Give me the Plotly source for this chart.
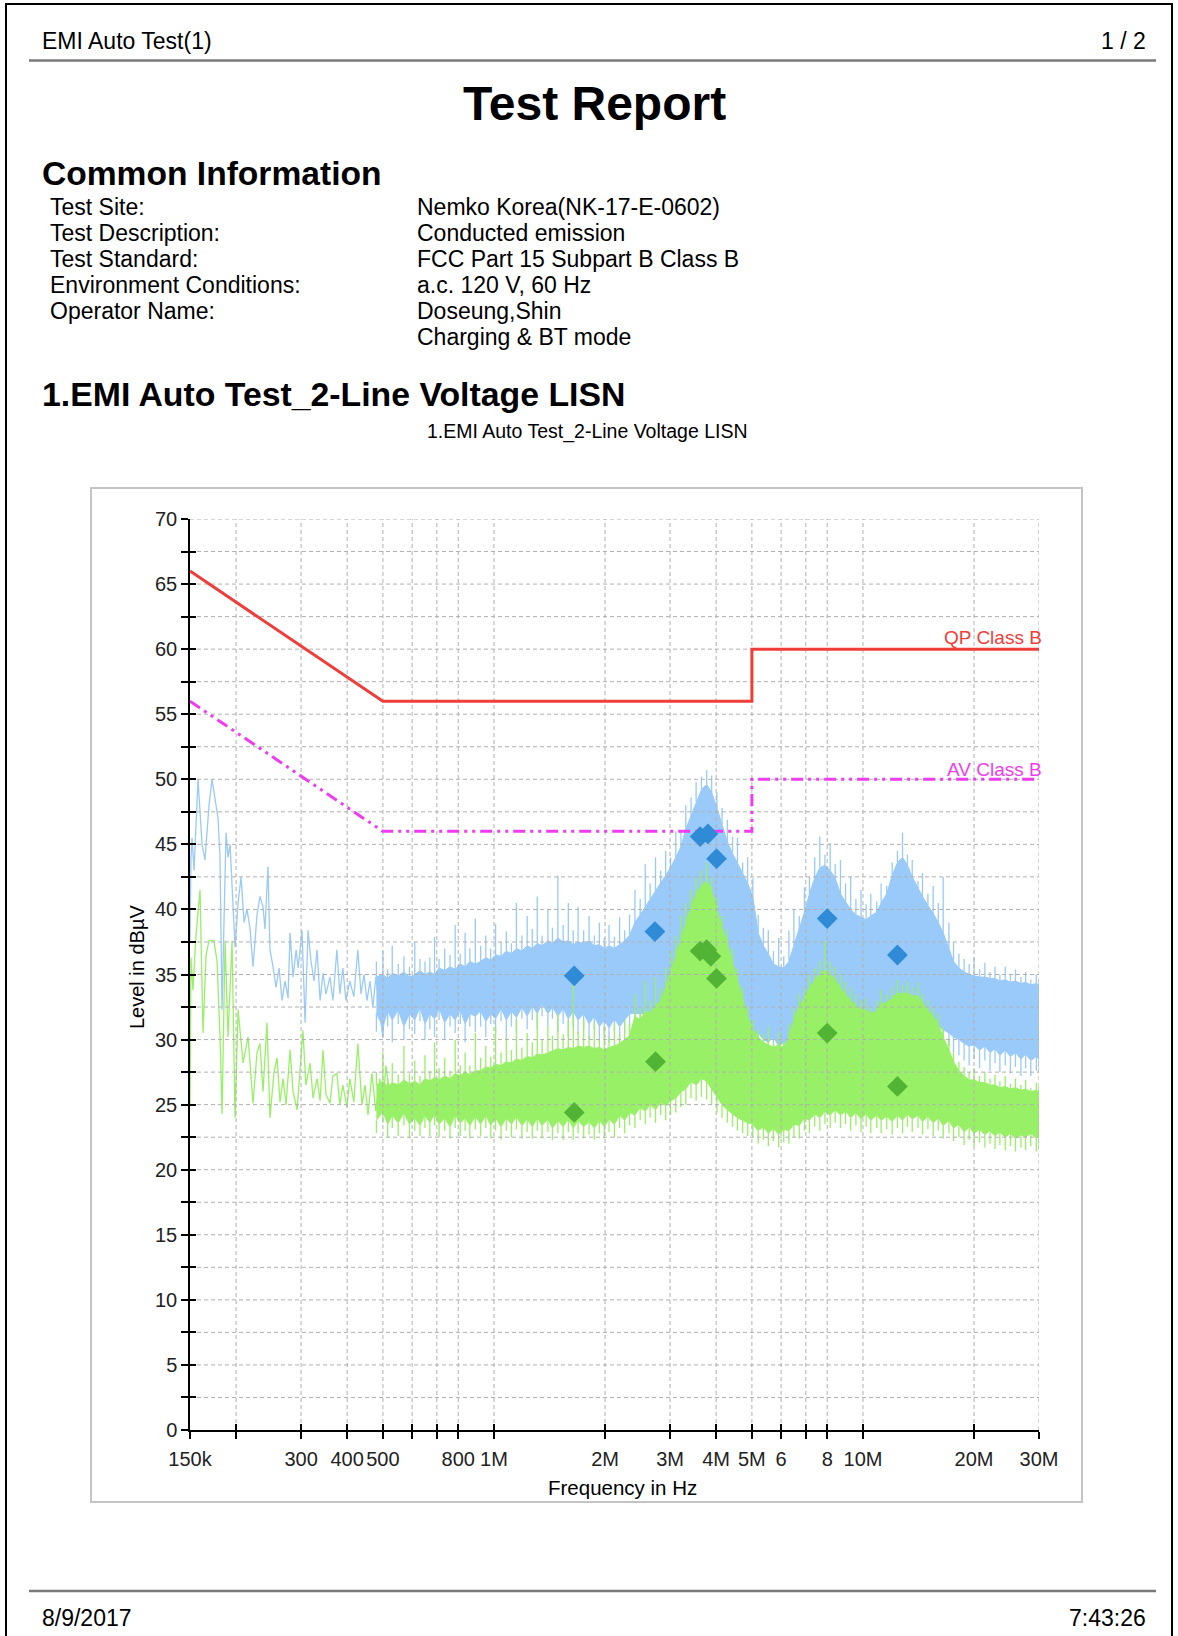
import math
import plotly.graph_objects as go

# ---------------------------------------------------------------- data
# Limit lines (FCC Part 15 Class B, conducted), frequency in MHz
LIMIT_MHZ = [0.15, 0.5, 5.0, 5.0, 30.0]
QP_LIMIT_DB = [66, 56, 56, 60, 60]
AV_LIMIT_DB = [56, 46, 46, 50, 50]

# Peak detector trace, low-frequency part (MHz, dBuV)
PK_LF_MHZ = [0.1500, 0.1509, 0.1519, 0.1538, 0.1577, 0.1617, 0.1647, 0.1689, 0.1721, 0.1753,
             0.1787, 0.1809, 0.1832, 0.1878, 0.1902, 0.1926, 0.1950, 0.1987, 0.2025, 0.2063,
             0.2102, 0.2141, 0.2182, 0.2223, 0.2278, 0.2321, 0.2366, 0.2395, 0.2440, 0.2471,
             0.2518, 0.2566, 0.2615, 0.2664, 0.2714, 0.2766, 0.2801, 0.2854, 0.2909, 0.2946,
             0.3018, 0.3076, 0.3134, 0.3192, 0.3253, 0.3315, 0.3378, 0.3441, 0.3504, 0.3593,
             0.3660, 0.3751, 0.3822, 0.3894, 0.3968, 0.4067, 0.4170, 0.4275, 0.4361, 0.4442,
             0.4527, 0.4611, 0.4697, 0.4784, 0.4905, 0.4995, 0.5095, 0.5226]
PK_LF_DB = [37.5, 44.0, 45.5, 43.0, 50.0, 45.0, 43.8, 48.0, 50.0, 48.5,
            47.0, 44.0, 32.3, 45.9, 44.0, 45.0, 42.0, 37.1, 40.5, 42.5,
            39.0, 40.0, 38.5, 35.6, 39.5, 41.0, 40.2, 38.5, 43.3, 36.9,
            35.6, 34.0, 35.5, 33.0, 34.5, 33.2, 38.2, 34.8, 36.9, 35.5,
            38.4, 31.3, 38.4, 36.0, 34.5, 36.9, 33.0, 35.1, 33.5, 34.8,
            33.0, 36.9, 33.5, 35.5, 33.0, 34.5, 33.3, 36.9, 33.5, 35.0,
            33.0, 34.5, 32.5, 34.8, 32.0, 30.2, 34.0, 33.0]

# Average detector trace, low-frequency part (MHz, dBuV)
AV_LF_MHZ = [0.1500, 0.1509, 0.1528, 0.1557, 0.1597, 0.1627, 0.1658, 0.1689, 0.1742, 0.1776,
             0.1809, 0.1832, 0.1867, 0.1902, 0.1950, 0.1987, 0.2025, 0.2089, 0.2155, 0.2223,
             0.2278, 0.2321, 0.2366, 0.2425, 0.2471, 0.2534, 0.2582, 0.2631, 0.2681, 0.2731,
             0.2801, 0.2854, 0.2927, 0.2981, 0.3035, 0.3092, 0.3173, 0.3233, 0.3315, 0.3378,
             0.3441, 0.3504, 0.3593, 0.3660, 0.3751, 0.3822, 0.3894, 0.3993, 0.4067, 0.4170,
             0.4275, 0.4388, 0.4473, 0.4556, 0.4667, 0.4784, 0.4905, 0.4995, 0.5095, 0.5226]
AV_LF_DB = [24.8, 36.3, 33.8, 38.0, 41.5, 30.5, 36.5, 37.6, 37.6, 36.0,
            30.2, 24.3, 37.6, 30.2, 37.6, 24.0, 32.3, 28.2, 30.2, 25.1,
            29.0, 29.7, 26.0, 31.3, 24.0, 27.5, 28.6, 25.2, 27.0, 25.0,
            29.2, 26.0, 24.6, 27.5, 30.7, 26.5, 28.2, 25.5, 27.0, 25.3,
            29.2, 25.8, 25.1, 27.2, 27.4, 25.0, 26.5, 24.8, 27.0, 25.2,
            29.7, 25.0, 26.5, 24.2, 27.4, 24.5, 27.0, 25.0, 28.0, 25.5]

# Dense sweep above 0.48 MHz: frequencies, solid upper/lower edge, spike tips and dips
BAND_MHZ = [0.48, 0.50, 0.515, 0.53, 0.55, 0.57, 0.59, 0.61, 0.63, 0.65,
            0.67, 0.69, 0.71, 0.735, 0.76, 0.785, 0.81, 0.835, 0.86, 0.89,
            0.92, 0.95, 0.98, 1.01, 1.045, 1.08, 1.115, 1.15, 1.19, 1.23,
            1.27, 1.31, 1.35, 1.40, 1.44, 1.49, 1.54, 1.59, 1.64, 1.69,
            1.75, 1.81, 1.87, 1.93, 1.99, 2.05, 2.12, 2.19, 2.26, 2.33,
            2.41, 2.49, 2.57, 2.65, 2.74, 2.83, 2.92, 3.01, 3.11, 3.21,
            3.31, 3.42, 3.53, 3.65, 3.77, 3.89, 4.02, 4.15, 4.29, 4.43,
            4.57, 4.72, 4.87, 5.03, 5.2, 5.37, 5.54, 5.72, 5.91, 6.1,
            6.3, 6.5, 6.72, 6.94, 7.16, 7.4, 7.64, 7.89, 8.15, 8.41,
            8.69, 8.97, 9.26, 9.57, 9.88, 10.2, 10.5, 10.9, 11.2, 11.6,
            12.0, 12.4, 12.8, 13.2, 13.6, 14.1, 14.5, 15.0, 15.5, 16.0,
            16.5, 17.1, 17.6, 18.2, 18.8, 19.4, 20.0, 20.7, 21.4, 22.1,
            22.8, 23.5, 24.3, 25.1, 25.9, 26.8, 27.6, 28.5, 29.5, 30.0]

PK_HI_DB = [34.8, 35.0, 34.7, 35.1, 34.9, 35.2, 34.8, 35.0, 35.3, 35.0,
            35.2, 35.0, 35.5, 35.3, 35.6, 35.4, 35.8, 35.6, 36.0, 35.8,
            36.0, 36.3, 36.1, 36.5, 36.4, 36.8, 36.6, 37.0, 36.8, 37.2,
            37.0, 37.4, 37.2, 37.6, 37.4, 37.8, 37.5, 37.6, 37.3, 37.5,
            37.4, 37.6, 37.2, 37.3, 37.0, 37.2, 37.0, 37.3, 37.6, 38.0,
            39.0, 39.6, 40.2, 40.8, 41.4, 42.0, 42.6, 43.2, 44.0, 44.8,
            46.2, 47.2, 48.3, 49.2, 49.6, 49.0, 47.8, 46.5, 45.2, 44.3,
            43.6, 42.8, 42.0, 41.0, 38.2, 37.2, 36.6, 35.8, 35.6, 35.5,
            36.0, 37.2, 38.4, 39.8, 41.2, 42.4, 43.2, 43.4, 43.0, 42.4,
            41.2, 40.6, 40.0, 39.6, 39.4, 39.2, 39.5, 39.8, 40.5, 41.2,
            42.6, 43.6, 44.0, 43.4, 42.5, 41.6, 41.0, 40.3, 39.7, 39.0,
            38.2, 37.0, 36.0, 35.5, 35.2, 35.0, 34.9, 34.8, 34.8, 34.7,
            34.7, 34.5, 34.6, 34.4, 34.5, 34.3, 34.4, 34.2, 34.3, 34.2]
PK_TIP_DB = [36.0, 36.8, 35.4, 37.2, 35.8, 36.4, 35.6, 37.5, 36.2, 36.0,
             36.3, 37.9, 36.2, 37.0, 36.5, 38.8, 36.6, 38.2, 37.0, 39.3,
             37.2, 38.0, 37.0, 38.9, 37.5, 38.3, 37.4, 40.5, 38.0, 39.5,
             38.5, 41.0, 38.0, 40.0, 38.6, 42.6, 38.8, 40.5, 38.4, 40.2,
             38.4, 39.5, 38.0, 39.0, 37.8, 38.8, 37.9, 39.4, 38.4, 39.6,
             41.5, 40.8, 43.5, 42.0, 44.0, 43.0, 44.5, 44.0, 46.0, 46.0,
             48.0, 48.6, 49.8, 50.2, 50.7, 50.3, 49.0, 47.8, 46.9, 45.6,
             45.5, 43.6, 44.0, 42.4, 39.6, 38.6, 38.4, 36.8, 37.8, 36.4,
             38.4, 40.0, 39.5, 41.7, 42.5, 44.0, 45.6, 44.2, 45.1, 43.5,
             43.8, 42.0, 42.5, 40.8, 41.5, 40.4, 41.2, 40.6, 42.0, 41.8,
             43.6, 44.5, 45.9, 44.2, 43.8, 42.2, 42.8, 41.2, 41.8, 40.5,
             42.5, 39.0, 37.5, 36.6, 36.2, 35.8, 36.3, 35.4, 35.9, 35.2,
             35.6, 35.0, 35.6, 35.0, 35.4, 34.8, 35.2, 34.6, 35.0, 34.6]
PK_LO_DB = [32.0, 31.0, 32.2, 31.5, 32.3, 31.0, 32.0, 31.5, 32.5, 31.2,
            32.0, 31.6, 32.4, 31.3, 32.0, 31.5, 32.3, 31.2, 32.0, 31.8,
            32.2, 31.4, 32.0, 31.6, 32.4, 31.5, 32.2, 31.7, 32.5, 31.8,
            32.6, 32.0, 32.8, 32.0, 32.5, 31.8, 32.4, 31.6, 32.2, 31.5,
            32.0, 31.2, 31.8, 31.0, 31.5, 30.9, 31.6, 31.0, 31.5, 32.0,
            32.0, 32.0, 32.0, 32.0, 32.0, 32.0, 32.0, 32.0, 32.0, 32.0,
            32.0, 32.0, 32.0, 32.0, 32.0, 32.0, 32.0, 32.0, 32.0, 32.0,
            31.5, 31.0, 30.5, 30.2, 30.5, 30.0, 29.8, 30.2, 29.5, 29.8,
            29.4, 29.8, 30.0, 30.5, 31.0, 31.0, 31.0, 31.0, 31.0, 31.0,
            31.0, 31.0, 31.0, 31.0, 31.0, 31.0, 31.5, 32.0, 32.0, 32.0,
            32.0, 31.5, 31.5, 31.0, 31.0, 31.0, 31.0, 31.0, 31.0, 31.0,
            30.8, 30.5, 30.2, 30.0, 29.7, 29.5, 29.6, 29.2, 29.5, 29.0,
            29.3, 28.8, 29.2, 28.7, 29.0, 28.5, 28.9, 28.4, 28.7, 28.5]
PK_DIP_DB = [30.6, 30.2, 31.0, 29.8, 31.2, 30.0, 30.8, 30.4, 31.4, 30.0,
             30.8, 30.2, 31.5, 30.0, 31.0, 30.5, 31.2, 29.8, 31.0, 30.6,
             31.0, 30.2, 31.2, 30.4, 31.4, 30.0, 31.0, 30.6, 31.6, 30.8,
             31.5, 30.8, 31.8, 31.0, 31.6, 30.6, 31.2, 30.2, 31.0, 30.4,
             30.8, 30.0, 30.8, 29.8, 30.4, 29.8, 30.6, 29.6, 30.4, 31.0,
             31.0, 31.0, 31.0, 31.0, 31.0, 31.0, 31.0, 31.0, 31.0, 31.0,
             31.0, 31.0, 31.0, 31.0, 31.0, 31.0, 31.0, 31.0, 31.0, 31.0,
             31.0, 30.5, 30.0, 29.5, 29.0, 28.6, 28.4, 28.8, 28.0, 28.5,
             28.2, 28.6, 29.0, 29.5, 30.0, 30.0, 30.0, 30.0, 30.0, 30.0,
             30.0, 30.0, 30.0, 30.0, 30.0, 30.0, 30.5, 31.0, 31.0, 31.0,
             31.0, 30.5, 30.5, 30.0, 30.0, 30.0, 30.0, 30.0, 30.0, 30.0,
             29.8, 29.5, 29.0, 28.8, 28.4, 28.0, 28.5, 27.8, 28.4, 27.6,
             28.2, 27.5, 28.0, 27.4, 27.9, 27.2, 27.8, 27.2, 27.6, 27.5]

AV_HI_DB = [26.5, 26.8, 26.4, 26.7, 26.5, 26.9, 26.6, 26.8, 26.5, 27.0,
            26.8, 27.1, 26.9, 27.2, 27.0, 27.4, 27.2, 27.5, 27.3, 27.6,
            27.6, 27.9, 27.8, 28.1, 28.0, 28.3, 28.2, 28.5, 28.4, 28.7,
            28.6, 28.9, 28.8, 29.0, 29.1, 29.3, 29.2, 29.4, 29.3, 29.5,
            29.4, 29.5, 29.3, 29.4, 29.2, 29.4, 29.5, 29.7, 30.0, 30.3,
            31.8, 31.5, 32.2, 32.0, 32.6, 33.0, 34.0, 35.2, 36.5, 37.8,
            39.0, 40.2, 41.2, 41.8, 42.2, 41.5, 40.0, 38.6, 37.4, 36.0,
            34.6, 33.2, 31.8, 30.8, 30.2, 29.8, 29.6, 29.4, 29.6, 29.4,
            30.2, 31.5, 32.6, 33.2, 34.0, 34.6, 35.0, 35.4, 35.0, 34.6,
            34.0, 33.5, 33.0, 32.6, 32.3, 32.3, 32.0, 32.2, 32.8, 32.8,
            33.2, 33.6, 33.5, 33.6, 33.3, 33.4, 32.8, 32.3, 31.8, 31.2,
            30.2, 29.2, 28.3, 27.6, 27.2, 26.9, 26.9, 26.7, 26.7, 26.5,
            26.5, 26.3, 26.4, 26.2, 26.3, 26.1, 26.2, 26.0, 26.1, 26.0]
AV_TIP_DB = [27.5, 29.0, 27.0, 28.2, 27.3, 29.5, 27.4, 28.4, 27.2, 28.8,
             27.6, 29.8, 27.8, 28.6, 27.6, 30.0, 28.0, 29.0, 28.0, 30.5,
             28.6, 29.5, 28.7, 31.0, 29.0, 30.2, 29.2, 31.5, 29.4, 30.5,
             29.8, 32.0, 30.0, 31.0, 30.3, 32.0, 30.4, 31.5, 35.0, 30.6,
             31.5, 30.3, 31.3, 30.0, 31.0, 30.2, 31.2, 30.4, 31.5, 31.2,
             33.5, 32.5, 34.5, 33.0, 34.8, 34.0, 35.5, 36.8, 38.0, 39.5,
             40.5, 41.5, 42.5, 43.0, 43.6, 42.5, 41.0, 39.5, 38.5, 37.0,
             35.5, 34.0, 32.5, 31.5, 30.8, 30.4, 31.0, 29.8, 30.6, 29.8,
             31.2, 32.5, 33.5, 34.0, 35.0, 35.5, 36.0, 37.6, 36.0, 35.6,
             35.0, 34.5, 34.0, 33.5, 33.0, 33.2, 32.5, 33.0, 33.8, 33.5,
             34.0, 34.6, 34.2, 34.5, 34.0, 34.4, 33.5, 33.0, 32.5, 32.0,
             31.0, 30.0, 29.0, 28.3, 27.9, 27.5, 27.8, 27.2, 27.5, 27.0,
             27.3, 26.8, 27.2, 26.6, 27.0, 26.5, 26.9, 26.3, 26.7, 26.4]
AV_LO_DB = [23.8, 24.5, 23.5, 24.2, 23.6, 24.4, 23.5, 24.0, 23.4, 24.2,
            23.6, 24.3, 23.5, 24.0, 23.3, 24.2, 23.6, 24.0, 23.4, 24.1,
            23.5, 24.2, 23.4, 24.0, 23.3, 24.0, 23.5, 24.1, 23.4, 23.9,
            23.3, 24.0, 23.4, 23.9, 23.2, 23.8, 23.3, 23.9, 23.2, 23.8,
            23.3, 23.7, 23.2, 23.8, 23.3, 23.9, 23.5, 24.2, 23.8, 24.4,
            24.2, 24.8, 24.5, 25.0, 24.6, 25.2, 24.9, 25.3, 25.5, 26.0,
            26.2, 26.8, 26.5, 27.0, 26.8, 26.3, 25.6, 25.0, 24.6, 24.3,
            24.0, 23.8, 23.6, 23.5, 23.0, 23.3, 22.8, 23.2, 22.7, 23.1,
            23.0, 23.5, 23.4, 24.0, 23.8, 24.3, 24.0, 24.5, 24.2, 24.6,
            24.2, 24.5, 24.0, 24.4, 23.9, 24.3, 23.8, 24.2, 23.8, 24.1,
            23.7, 24.2, 23.8, 24.3, 23.9, 24.2, 23.7, 24.1, 23.6, 24.0,
            23.4, 23.8, 23.2, 23.5, 22.9, 23.3, 22.8, 23.1, 22.7, 23.0,
            22.6, 22.9, 22.5, 22.8, 22.4, 22.7, 22.5, 22.8, 22.4, 22.6]
AV_DIP_DB = [22.8, 23.6, 22.5, 23.2, 22.6, 23.4, 22.4, 23.0, 22.6, 23.2,
             22.6, 23.4, 22.5, 23.0, 22.4, 23.2, 22.6, 23.0, 22.4, 23.1,
             22.6, 23.2, 22.4, 23.0, 22.3, 23.0, 22.5, 23.1, 22.4, 22.9,
             22.4, 23.0, 22.4, 22.9, 22.3, 22.8, 22.3, 22.9, 22.3, 22.8,
             22.4, 22.7, 22.3, 22.8, 22.4, 22.9, 22.5, 23.2, 22.8, 23.4,
             23.2, 23.8, 23.5, 24.0, 23.6, 24.2, 23.8, 24.2, 24.4, 24.8,
             25.0, 25.5, 25.3, 25.6, 25.4, 25.0, 24.4, 24.0, 23.6, 23.3,
             23.0, 22.8, 22.6, 22.5, 22.0, 22.3, 21.8, 22.2, 21.7, 22.1,
             22.0, 22.5, 22.4, 23.0, 22.8, 23.3, 23.0, 23.5, 23.2, 23.6,
             23.2, 23.5, 23.0, 23.4, 22.9, 23.3, 22.8, 23.2, 22.8, 23.1,
             22.7, 23.2, 22.8, 23.3, 22.9, 23.2, 22.7, 23.1, 22.6, 23.0,
             22.4, 22.8, 22.2, 22.5, 21.9, 22.3, 21.8, 22.1, 21.7, 22.0,
             21.6, 21.9, 21.5, 21.8, 21.4, 21.7, 21.5, 21.8, 21.4, 21.6]

# Final measurement points
QP_MARK_MHZ = [1.65, 2.73, 3.62, 3.80, 4.01, 8.0, 12.4]
QP_MARK_DB = [34.9, 38.3, 45.6, 45.8, 43.9, 39.3, 36.5]
AV_MARK_MHZ = [1.65, 2.74, 3.62, 3.77, 3.87, 4.01, 8.0, 12.4]
AV_MARK_DB = [24.4, 28.3, 36.8, 36.9, 36.4, 34.7, 30.5, 26.4]

# Axis ticks
X_TICK_MHZ = [0.15, 0.2, 0.3, 0.4, 0.5, 0.6, 0.7, 0.8, 1, 2, 3, 4, 5, 6, 7, 8, 10, 20, 30]
X_TICK_TEXT = ["150k", "", "300", "400", "500", "", "", "800", "1M", "2M", "3M", "4M",
               "5M", "6", "", "8", "10M", "20M", "30M"]
Y_TICKS = [0, 2.5, 5, 7.5, 10, 12.5, 15, 17.5, 20, 22.5, 25, 27.5, 30, 32.5, 35,
           37.5, 40, 42.5, 45, 47.5, 50, 52.5, 55, 57.5, 60, 62.5, 65, 67.5, 70]
Y_TICK_TEXT = [str(int(v)) if v % 5 == 0 else "" for v in Y_TICKS]

# ---------------------------------------------------------------- styling
FONT = "Liberation Sans"
PEAK_BLUE = "#99CAF9"
AVG_GREEN = "#98F066"
QP_RED = "#EF3E3A"
AV_MAGENTA = "#F03CF0"
GRID = "#B0B0B0"

W, H = 1178, 1636
PL, PR, PT, PB = 190, 1039, 519, 1430   # plot area in page pixels


def hz(values):
    return [v * 1e6 for v in values]


def pxx(x):
    return (x - PL) / (PR - PL)


def pxy(y):
    return (PB - y) / (PB - PT)


def band(freqs, hi, lo, color):
    """Solid band between the upper and lower envelope."""
    return go.Scatter(x=hz(freqs) + hz(freqs[::-1]), y=hi + lo[::-1],
                      fill="toself", fillcolor=color, mode="lines",
                      line=dict(color=color, width=1), hoverinfo="skip", showlegend=False)


def spikes(freqs, base_a, tip_a, base_b, tip_b, color):
    """Thin vertical spikes leaving the band edges (upper tips and lower dips)."""
    xs, ys = [], []
    for f, b1, t1, b2, t2 in zip(freqs, base_a, tip_a, base_b, tip_b):
        xs += [f * 1e6, f * 1e6, None, f * 1e6, f * 1e6, None]
        ys += [b1, t1, None, b2, t2, None]
    return go.Scatter(x=xs, y=ys, mode="lines", line=dict(color=color, width=1.3),
                      hoverinfo="skip", showlegend=False)


fig = go.Figure()

# Peak trace
fig.add_trace(band(BAND_MHZ, PK_HI_DB, PK_LO_DB, PEAK_BLUE))
fig.add_trace(spikes(BAND_MHZ, PK_HI_DB, PK_TIP_DB, PK_LO_DB, PK_DIP_DB, PEAK_BLUE))
fig.add_trace(go.Scatter(x=hz(PK_LF_MHZ), y=PK_LF_DB, mode="lines",
                         line=dict(color=PEAK_BLUE, width=1.3), showlegend=False))

# Average trace
fig.add_trace(band(BAND_MHZ, AV_HI_DB, AV_LO_DB, AVG_GREEN))
fig.add_trace(spikes(BAND_MHZ, AV_HI_DB, AV_TIP_DB, AV_LO_DB, AV_DIP_DB, AVG_GREEN))
fig.add_trace(go.Scatter(x=hz(AV_LF_MHZ), y=AV_LF_DB, mode="lines",
                         line=dict(color=AVG_GREEN, width=1.3), showlegend=False))

# Dashed grid drawn over the traces, from the tick positions
gx, gy = [], []
for f in X_TICK_MHZ[1:]:
    gx += [f * 1e6, f * 1e6, None]
    gy += [Y_TICKS[0], Y_TICKS[-1], None]
for v in Y_TICKS[1:]:
    gx += [X_TICK_MHZ[0] * 1e6, X_TICK_MHZ[-1] * 1e6, None]
    gy += [v, v, None]
fig.add_trace(go.Scatter(x=gx, y=gy, mode="lines", hoverinfo="skip",
                         line=dict(color=GRID, width=1, dash="4px,3px"), showlegend=False))

# Limit lines
fig.add_trace(go.Scatter(x=hz(LIMIT_MHZ), y=QP_LIMIT_DB, mode="lines",
                         line=dict(color=QP_RED, width=3), showlegend=False))
fig.add_trace(go.Scatter(x=hz(LIMIT_MHZ), y=AV_LIMIT_DB, mode="lines",
                         line=dict(color=AV_MAGENTA, width=3,
                                   dash="12px,5px,3px,5px,3px,5px"), showlegend=False))

# Final measurement markers
fig.add_trace(go.Scatter(x=hz(QP_MARK_MHZ), y=QP_MARK_DB, mode="markers",
                         marker=dict(symbol="diamond", size=16, color="#2F8BD6"),
                         showlegend=False))
fig.add_trace(go.Scatter(x=hz(AV_MARK_MHZ), y=AV_MARK_DB, mode="markers",
                         marker=dict(symbol="diamond", size=16, color="#52B434"),
                         showlegend=False))

# Empty trace on the overlay axes (inner half of the crossing ticks)
fig.add_trace(go.Scatter(x=[], y=[], xaxis="x2", yaxis="y2", showlegend=False))

xrange = [math.log10(X_TICK_MHZ[0] * 1e6), math.log10(X_TICK_MHZ[-1] * 1e6)]
yrange = [Y_TICKS[0], Y_TICKS[-1]]
tickfont = dict(family=FONT, size=20, color="#222222")

fig.update_layout(
    width=W, height=H, autosize=False,
    margin=dict(l=PL, r=W - PR, t=PT, b=H - PB, pad=0),
    paper_bgcolor="white", plot_bgcolor="white",
    font=dict(family=FONT, color="black"),
    xaxis=dict(type="log", range=xrange, showgrid=False, zeroline=False,
               showline=True, linecolor="black", linewidth=1.5,
               ticks="outside", ticklen=7, tickwidth=1.5, tickcolor="black",
               tickvals=hz(X_TICK_MHZ), ticktext=X_TICK_TEXT, tickfont=tickfont,
               ticklabelstandoff=3),
    yaxis=dict(range=yrange, showgrid=False, zeroline=False,
               showline=True, linecolor="black", linewidth=1.5,
               ticks="outside", ticklen=7, tickwidth=1.5, tickcolor="black",
               tickvals=Y_TICKS, ticktext=Y_TICK_TEXT, tickfont=tickfont),
    xaxis2=dict(type="log", range=xrange, overlaying="x", anchor="y2", side="bottom",
                showgrid=False, zeroline=False, showline=False,
                ticks="inside", ticklen=6, tickwidth=1.5, tickcolor="black",
                tickvals=hz(X_TICK_MHZ), showticklabels=False),
    yaxis2=dict(range=yrange, overlaying="y", anchor="x2", side="left",
                showgrid=False, zeroline=False, showline=False,
                ticks="inside", ticklen=6, tickwidth=1.5, tickcolor="black",
                tickvals=Y_TICKS, showticklabels=False),
)

# ---------------------------------------------------------------- page furniture
shapes = []


def hline(y, x0, x1, color, width):
    shapes.append(dict(type="line", xref="paper", yref="paper",
                       x0=pxx(x0), x1=pxx(x1), y0=pxy(y), y1=pxy(y),
                       line=dict(color=color, width=width)))


def vline(x, y0, y1, color, width):
    shapes.append(dict(type="line", xref="paper", yref="paper",
                       x0=pxx(x), x1=pxx(x), y0=pxy(y0), y1=pxy(y1),
                       line=dict(color=color, width=width)))


# page frame
hline(4, 5, 1173, "black", 2)
vline(6, 4, 1636, "black", 2)
vline(1172, 4, 1636, "black", 2)
# header / footer rules
hline(60.5, 29, 1156, "#7A7A7A", 2.5)
hline(1591, 29, 1156, "#7A7A7A", 2.5)
# chart frame
shapes.append(dict(type="rect", xref="paper", yref="paper",
                   x0=pxx(91), x1=pxx(1082), y0=pxy(1502), y1=pxy(488),
                   line=dict(color="#C4C4C4", width=2)))
fig.update_layout(shapes=shapes)

ann = []


def text(s, x, y, size, xanchor="left", color="black", bold=False, angle=0):
    ann.append(dict(text=f"<b>{s}</b>" if bold else s, x=pxx(x), y=pxy(y),
                    xref="paper", yref="paper", showarrow=False,
                    xanchor=xanchor, yanchor="middle", textangle=angle,
                    font=dict(family=FONT, size=size, color=color)))


text("EMI Auto Test(1)", 40, 41, 23)
text("1 / 2", 1148, 41, 23, xanchor="right")
text("Test Report", 594, 104, 48, xanchor="center", bold=True)
text("Common Information", 40, 173, 33.6, bold=True)

INFO_LABELS = ["Test Site:", "Test Description:", "Test Standard:",
               "Environment Conditions:", "Operator Name:", ""]
INFO_VALUES = ["Nemko Korea(NK-17-E-0602)", "Conducted emission",
               "FCC Part 15 Subpart B Class B", "a.c. 120 V, 60 Hz",
               "Doseung,Shin", "Charging &amp; BT mode"]
for i, (lab, val) in enumerate(zip(INFO_LABELS, INFO_VALUES)):
    y = 207 + i * 26
    if lab:
        text(lab, 48, y, 23)
    text(val, 415, y, 23)

text("1.EMI Auto Test_2-Line Voltage LISN", 40, 394, 33.8, bold=True)
text("1.EMI Auto Test_2-Line Voltage LISN", 587, 431, 19.5, xanchor="center")
text("Level in dBµV", 137, 967, 20, xanchor="center", angle=-90)
text("Frequency in Hz", 622, 1487, 20.5, xanchor="center")
text("8/9/2017", 40, 1618, 23)
text("7:43:26", 1148, 1618, 23, xanchor="right")

# limit-line labels, anchored at the right end of each limit line (log axis -> log10 x)
x_end = math.log10(LIMIT_MHZ[-1] * 1e6)
ann.append(dict(text="QP Class B", x=x_end, y=QP_LIMIT_DB[-1],
                xref="x", yref="y", showarrow=False, xanchor="right", yanchor="middle",
                xshift=5, yshift=11.5, font=dict(family=FONT, size=19, color=QP_RED)))
ann.append(dict(text="AV Class B", x=x_end, y=AV_LIMIT_DB[-1],
                xref="x", yref="y", showarrow=False, xanchor="right", yanchor="middle",
                xshift=5, yshift=10, font=dict(family=FONT, size=19, color=AV_MAGENTA)))
fig.update_layout(annotations=ann)

fig.write_html("out.html")
